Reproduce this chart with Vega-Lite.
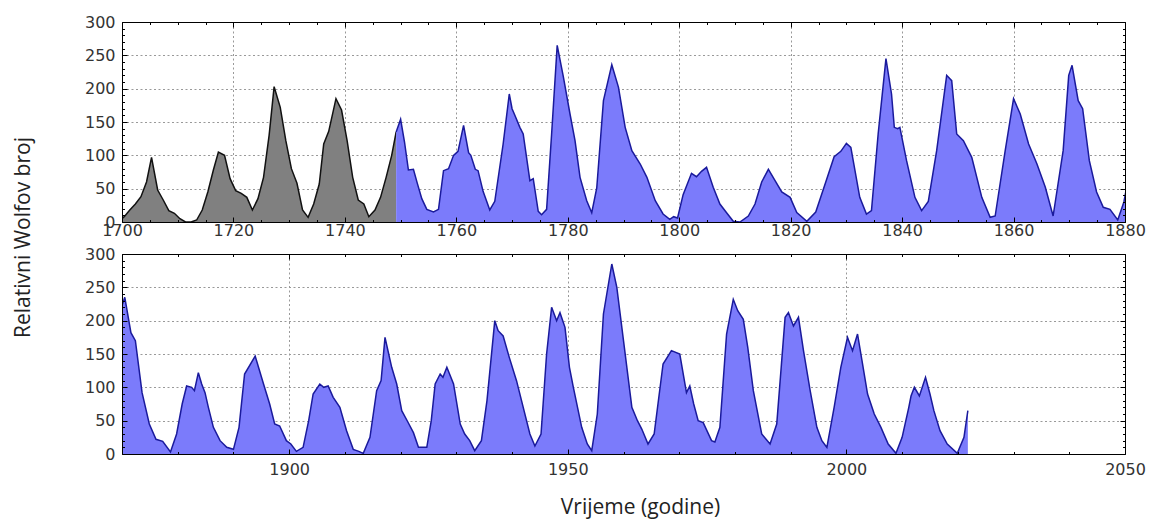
{
"$schema":"https://vega.github.io/schema/vega-lite/v6.json",
"padding":{"left":12,"top":14,"right":5,"bottom":5},
"background":"white",
"config":{"view":{"stroke":null},"axis":{"labelFont":"DejaVu Sans","labelFontSize":16,"labelColor":"#333","titleFont":"Open Sans","titleFontSize":21,"titleFontWeight":"normal","titleColor":"#222"}},
"datasets":{
"early":[{"year":1700,"value":5},{"year":1700.4,"value":8},{"year":1701.4,"value":18},{"year":1702.4,"value":27},{"year":1703.4,"value":38},{"year":1704.4,"value":60},{"year":1705.3,"value":97},{"year":1706.4,"value":48},{"year":1707.4,"value":33},{"year":1708.4,"value":17},{"year":1709.4,"value":13},{"year":1710.4,"value":5},{"year":1711.4,"value":0},{"year":1712.4,"value":0},{"year":1713.4,"value":3},{"year":1714.4,"value":18},{"year":1715.4,"value":45},{"year":1716.4,"value":78},{"year":1717.3,"value":105},{"year":1718.4,"value":100},{"year":1719.4,"value":65},{"year":1720.4,"value":47},{"year":1721.4,"value":43},{"year":1722.4,"value":37},{"year":1723.4,"value":18},{"year":1724.4,"value":35},{"year":1725.4,"value":67},{"year":1726.4,"value":130},{"year":1727.3,"value":203},{"year":1728.4,"value":172},{"year":1729.4,"value":122},{"year":1730.4,"value":80},{"year":1731.4,"value":58},{"year":1732.4,"value":18},{"year":1733.4,"value":7},{"year":1734.4,"value":27},{"year":1735.4,"value":57},{"year":1736.2,"value":117},{"year":1737.1,"value":136},{"year":1738.4,"value":185},{"year":1739.4,"value":168},{"year":1740.4,"value":122},{"year":1741.4,"value":67},{"year":1742.4,"value":33},{"year":1743.4,"value":27},{"year":1744.3,"value":8},{"year":1745.4,"value":18},{"year":1746.4,"value":37},{"year":1747.4,"value":67},{"year":1748.4,"value":100},{"year":1749.2,"value":135}],
"blue":[{"year":1749.2,"value":135},{"year":1750.0,"value":154},{"year":1750.7,"value":120},{"year":1751.4,"value":78},{"year":1752.3,"value":79},{"year":1753.0,"value":58},{"year":1753.8,"value":35},{"year":1754.7,"value":19},{"year":1755.9,"value":15},{"year":1756.8,"value":19},{"year":1757.7,"value":77},{"year":1758.6,"value":80},{"year":1759.5,"value":100},{"year":1760.3,"value":106},{"year":1761.3,"value":145},{"year":1762.2,"value":104},{"year":1762.6,"value":100},{"year":1763.4,"value":79},{"year":1763.9,"value":77},{"year":1764.8,"value":46},{"year":1766.0,"value":18},{"year":1766.9,"value":31},{"year":1768.4,"value":117},{"year":1769.5,"value":192},{"year":1770.0,"value":170},{"year":1770.5,"value":160},{"year":1771.4,"value":142},{"year":1772.0,"value":132},{"year":1773.2,"value":62},{"year":1773.8,"value":65},{"year":1774.7,"value":16},{"year":1775.3,"value":11},{"year":1776.2,"value":19},{"year":1777.1,"value":132},{"year":1778.1,"value":265},{"year":1779.2,"value":218},{"year":1780.4,"value":162},{"year":1781.3,"value":122},{"year":1782.2,"value":67},{"year":1783.4,"value":32},{"year":1784.3,"value":14},{"year":1785.2,"value":51},{"year":1786.4,"value":182},{"year":1787.9,"value":236},{"year":1789.1,"value":202},{"year":1790.3,"value":142},{"year":1791.5,"value":107},{"year":1793.0,"value":87},{"year":1794.2,"value":67},{"year":1795.7,"value":32},{"year":1797.1,"value":12},{"year":1798.3,"value":4},{"year":1799.0,"value":8},{"year":1799.7,"value":6},{"year":1800.7,"value":41},{"year":1802.2,"value":73},{"year":1803.1,"value":68},{"year":1804.0,"value":76},{"year":1804.9,"value":82},{"year":1806.1,"value":52},{"year":1807.3,"value":27},{"year":1808.5,"value":14},{"year":1809.7,"value":1},{"year":1810.9,"value":0},{"year":1812.4,"value":9},{"year":1813.6,"value":27},{"year":1814.8,"value":60},{"year":1816.0,"value":79},{"year":1817.2,"value":62},{"year":1818.4,"value":45},{"year":1819.9,"value":37},{"year":1821.1,"value":14},{"year":1822.9,"value":1},{"year":1824.5,"value":15},{"year":1826.3,"value":60},{"year":1827.8,"value":98},{"year":1829.0,"value":106},{"year":1830.0,"value":118},{"year":1830.8,"value":112},{"year":1832.4,"value":37},{"year":1833.6,"value":12},{"year":1834.5,"value":17},{"year":1835.7,"value":132},{"year":1837.1,"value":245},{"year":1838.1,"value":192},{"year":1838.6,"value":142},{"year":1839.2,"value":140},{"year":1839.6,"value":142},{"year":1840.8,"value":92},{"year":1842.3,"value":37},{"year":1843.5,"value":17},{"year":1844.7,"value":31},{"year":1846.2,"value":107},{"year":1848.0,"value":220},{"year":1848.9,"value":212},{"year":1849.8,"value":132},{"year":1851.0,"value":122},{"year":1852.5,"value":97},{"year":1854.3,"value":37},{"year":1855.8,"value":7},{"year":1856.7,"value":9},{"year":1858.5,"value":107},{"year":1860.0,"value":185},{"year":1861.2,"value":162},{"year":1862.7,"value":117},{"year":1864.2,"value":87},{"year":1865.7,"value":52},{"year":1867.1,"value":9},{"year":1868.9,"value":107},{"year":1869.9,"value":220},{"year":1870.5,"value":235},{"year":1871.6,"value":182},{"year":1872.4,"value":170},{"year":1873.6,"value":92},{"year":1874.9,"value":45},{"year":1876.1,"value":22},{"year":1877.3,"value":19},{"year":1878.7,"value":3},{"year":1879.8,"value":30},{"year":1880.8,"value":75},{"year":1881.6,"value":102},{"year":1882.5,"value":100},{"year":1883.0,"value":95},{"year":1883.7,"value":122},{"year":1884.3,"value":105},{"year":1884.9,"value":92},{"year":1885.5,"value":70},{"year":1886.4,"value":40},{"year":1887.6,"value":20},{"year":1888.8,"value":10},{"year":1890.0,"value":7},{"year":1891.0,"value":40},{"year":1892.0,"value":120},{"year":1893.9,"value":147},{"year":1894.5,"value":130},{"year":1895.4,"value":105},{"year":1896.5,"value":75},{"year":1897.4,"value":45},{"year":1898.3,"value":42},{"year":1899.5,"value":20},{"year":1900.3,"value":15},{"year":1901.3,"value":4},{"year":1902.5,"value":10},{"year":1903.5,"value":50},{"year":1904.3,"value":90},{"year":1905.5,"value":105},{"year":1906.2,"value":100},{"year":1907.0,"value":102},{"year":1907.9,"value":85},{"year":1909.1,"value":70},{"year":1910.3,"value":35},{"year":1911.5,"value":7},{"year":1912.5,"value":4},{"year":1913.3,"value":1},{"year":1914.5,"value":25},{"year":1915.7,"value":95},{"year":1916.5,"value":110},{"year":1917.2,"value":175},{"year":1918.4,"value":130},{"year":1919.3,"value":105},{"year":1920.2,"value":65},{"year":1921.3,"value":48},{"year":1922.3,"value":32},{"year":1923.2,"value":10},{"year":1924.7,"value":10},{"year":1925.5,"value":50},{"year":1926.2,"value":105},{"year":1927.1,"value":120},{"year":1927.6,"value":115},{"year":1928.3,"value":130},{"year":1929.5,"value":105},{"year":1930.7,"value":45},{"year":1931.5,"value":30},{"year":1932.4,"value":20},{"year":1933.3,"value":5},{"year":1934.5,"value":20},{"year":1935.5,"value":80},{"year":1936.9,"value":200},{"year":1937.5,"value":185},{"year":1938.4,"value":177},{"year":1939.5,"value":145},{"year":1940.8,"value":110},{"year":1941.7,"value":80},{"year":1943.2,"value":30},{"year":1944.1,"value":12},{"year":1945.2,"value":30},{"year":1946.2,"value":150},{"year":1947.1,"value":220},{"year":1948.0,"value":200},{"year":1948.6,"value":212},{"year":1949.5,"value":190},{"year":1950.3,"value":130},{"year":1951.0,"value":100},{"year":1952.5,"value":40},{"year":1953.5,"value":15},{"year":1954.3,"value":5},{"year":1955.3,"value":60},{"year":1956.4,"value":210},{"year":1957.9,"value":285},{"year":1958.8,"value":250},{"year":1960.0,"value":170},{"year":1961.5,"value":70},{"year":1962.5,"value":50},{"year":1963.3,"value":37},{"year":1964.4,"value":15},{"year":1965.5,"value":30},{"year":1967.1,"value":135},{"year":1968.6,"value":155},{"year":1970.1,"value":150},{"year":1971.3,"value":92},{"year":1971.9,"value":102},{"year":1972.6,"value":75},{"year":1973.4,"value":50},{"year":1974.3,"value":47},{"year":1975.8,"value":20},{"year":1976.4,"value":18},{"year":1977.3,"value":40},{"year":1978.5,"value":180},{"year":1979.7,"value":232},{"year":1980.5,"value":215},{"year":1981.5,"value":202},{"year":1982.3,"value":160},{"year":1983.3,"value":95},{"year":1984.8,"value":30},{"year":1986.3,"value":15},{"year":1987.5,"value":45},{"year":1988.3,"value":130},{"year":1989.0,"value":205},{"year":1989.6,"value":212},{"year":1990.5,"value":192},{"year":1991.4,"value":205},{"year":1992.3,"value":155},{"year":1993.5,"value":95},{"year":1994.7,"value":40},{"year":1995.6,"value":20},{"year":1996.5,"value":10},{"year":1997.8,"value":70},{"year":1999.0,"value":130},{"year":2000.2,"value":175},{"year":2001.1,"value":155},{"year":2002.0,"value":180},{"year":2002.8,"value":140},{"year":2003.8,"value":90},{"year":2005.0,"value":60},{"year":2006.2,"value":40},{"year":2007.5,"value":15},{"year":2008.9,"value":1},{"year":2010.0,"value":25},{"year":2011.2,"value":70},{"year":2011.6,"value":87},{"year":2012.2,"value":100},{"year":2013.1,"value":87},{"year":2014.2,"value":115},{"year":2015.0,"value":90},{"year":2015.7,"value":65},{"year":2016.8,"value":35},{"year":2018.1,"value":15},{"year":2019.9,"value":1},{"year":2021.1,"value":25},{"year":2021.8,"value":65}]
},
"spacing":32,
"bounds":"flush",
"vconcat":[
{
"width":1003,"height":200,
"resolve":{"axis":{"x":"independent","y":"independent"}},
"layer":[
{"data":{"name":"early"},"mark":{"type":"area","color":"#808080","clip":true},
"encoding":{
"x":{"field":"year","type":"quantitative","scale":{"domain":[1700,1880],"nice":false,"zero":false},"axis":{"orient":"bottom","values":[1700,1720,1740,1760,1780,1800,1820,1840,1860,1880],"format":"d","grid":true,"gridDash":[2,2.5],"gridColor":"#999","gridWidth":1,"ticks":false,"domain":false,"labelPadding":0,"labelFlush":false,"labelOverlap":false,"title":null,"zindex":0}},
"y":{"field":"value","type":"quantitative","scale":{"domain":[0,300],"nice":false},"axis":{"orient":"left","values":[0,50,100,150,200,250,300],"grid":true,"gridDash":[2,2.5],"gridColor":"#999","gridWidth":1,"ticks":false,"domain":false,"labelPadding":7,"labelOverlap":false,"title":"Relativni Wolfov broj","titleX":-89,"titleY":215,"titleBaseline":"bottom","titleAngle":270,"titleAlign":"center","zindex":0}}}},
{"data":{"name":"early"},"mark":{"type":"line","color":"#111111","strokeWidth":1.5,"clip":true},
"encoding":{"x":{"field":"year","type":"quantitative","scale":{"domain":[1700,1880],"nice":false,"zero":false},"axis":null},"y":{"field":"value","type":"quantitative","scale":{"domain":[0,300],"nice":false},"axis":null}}},
{"data":{"name":"blue"},"mark":{"type":"area","color":"#7b7bfb","opacity":1,"clip":true},
"encoding":{
"x":{"field":"year","type":"quantitative","scale":{"domain":[1700,1880],"nice":false,"zero":false},"axis":{"orient":"top","values":[1700,1720,1740,1760,1780,1800,1820,1840,1860,1880],"labels":false,"grid":false,"ticks":true,"tickSize":-5,"tickColor":"#000","domain":true,"domainColor":"#000","title":null,"zindex":1}},
"y":{"field":"value","type":"quantitative","scale":{"domain":[0,300],"nice":false},"axis":{"orient":"right","values":[0,50,100,150,200,250,300],"labels":false,"grid":false,"ticks":true,"tickSize":-5,"tickColor":"#000","domain":true,"domainColor":"#000","title":null,"zindex":1}}}},
{"data":{"name":"blue"},"mark":{"type":"line","color":"#1a1a9c","strokeWidth":1.5,"clip":true},
"encoding":{"x":{"field":"year","type":"quantitative","scale":{"domain":[1700,1880],"nice":false,"zero":false},"axis":null},"y":{"field":"value","type":"quantitative","scale":{"domain":[0,300],"nice":false},"axis":null}}},
{"data":{"name":"early"},"mark":{"type":"point","opacity":0,"clip":true},
"encoding":{
"x":{"field":"year","type":"quantitative","scale":{"domain":[1700,1880],"nice":false,"zero":false},"axis":{"orient":"bottom","values":[1700,1720,1740,1760,1780,1800,1820,1840,1860,1880],"labels":false,"grid":false,"ticks":true,"tickSize":-5,"tickColor":"#000","domain":true,"domainColor":"#000","title":null,"zindex":1}},
"y":{"field":"value","type":"quantitative","scale":{"domain":[0,300],"nice":false},"axis":{"orient":"left","values":[0,50,100,150,200,250,300],"labels":false,"grid":false,"ticks":true,"tickSize":-5,"tickColor":"#000","domain":true,"domainColor":"#000","title":null,"zindex":1}}}},
{"data":{"name":"early"},"mark":{"type":"point","opacity":0,"clip":true},
"encoding":{
"x":{"field":"year","type":"quantitative","scale":{"domain":[1700,1880],"nice":false,"zero":false},"axis":{"orient":"bottom","values":[1705,1710,1715,1725,1730,1735,1745,1750,1755,1765,1770,1775,1785,1790,1795,1805,1810,1815,1825,1830,1835,1845,1850,1855,1865,1870,1875],"labels":false,"grid":false,"ticks":true,"tickSize":-2.5,"tickColor":"#000","domain":false,"title":null,"zindex":1}},
"y":{"field":"value","type":"quantitative","scale":{"domain":[0,300],"nice":false},"axis":{"orient":"left","values":[10,20,30,40,60,70,80,90,110,120,130,140,160,170,180,190,210,220,230,240,260,270,280,290],"labels":false,"grid":false,"ticks":true,"tickSize":-2.5,"tickColor":"#000","domain":false,"title":null,"zindex":1}}}},
{"data":{"name":"early"},"mark":{"type":"point","opacity":0,"clip":true},
"encoding":{
"x":{"field":"year","type":"quantitative","scale":{"domain":[1700,1880],"nice":false,"zero":false},"axis":{"orient":"top","values":[1705,1710,1715,1725,1730,1735,1745,1750,1755,1765,1770,1775,1785,1790,1795,1805,1810,1815,1825,1830,1835,1845,1850,1855,1865,1870,1875],"labels":false,"grid":false,"ticks":true,"tickSize":-2.5,"tickColor":"#000","domain":false,"title":null,"zindex":1}},
"y":{"field":"value","type":"quantitative","scale":{"domain":[0,300],"nice":false},"axis":{"orient":"right","values":[10,20,30,40,60,70,80,90,110,120,130,140,160,170,180,190,210,220,230,240,260,270,280,290],"labels":false,"grid":false,"ticks":true,"tickSize":-2.5,"tickColor":"#000","domain":false,"title":null,"zindex":1}}}}
]
},
{
"width":1003,"height":200,
"resolve":{"axis":{"x":"independent","y":"independent"}},
"layer":[
{"data":{"name":"blue"},"mark":{"type":"area","color":"#7b7bfb","opacity":1,"clip":true},
"encoding":{
"x":{"field":"year","type":"quantitative","scale":{"domain":[1870,2050],"nice":false,"zero":false},"axis":{"orient":"bottom","values":[1900,1950,2000,2050],"format":"d","grid":true,"gridDash":[2,2.5],"gridColor":"#999","gridWidth":1,"ticks":false,"domain":false,"labelPadding":7,"labelFlush":false,"labelOverlap":false,"title":"Vrijeme (godine)","titleX":518,"titleY":59,"titleBaseline":"alphabetic","titleAlign":"center","zindex":0}},
"y":{"field":"value","type":"quantitative","scale":{"domain":[0,300],"nice":false},"axis":{"orient":"left","values":[0,50,100,150,200,250,300],"grid":true,"gridDash":[2,2.5],"gridColor":"#999","gridWidth":1,"ticks":false,"domain":false,"labelPadding":7,"labelOverlap":false,"title":null,"zindex":0}}}},
{"data":{"name":"blue"},"mark":{"type":"line","color":"#1a1a9c","strokeWidth":1.5,"clip":true},
"encoding":{"x":{"field":"year","type":"quantitative","scale":{"domain":[1870,2050],"nice":false,"zero":false},"axis":null},"y":{"field":"value","type":"quantitative","scale":{"domain":[0,300],"nice":false},"axis":null}}},
{"data":{"name":"blue"},"mark":{"type":"point","opacity":0,"clip":true},
"encoding":{
"x":{"field":"year","type":"quantitative","scale":{"domain":[1870,2050],"nice":false,"zero":false},"axis":{"orient":"top","values":[1900,1950,2000,2050],"labels":false,"grid":false,"ticks":true,"tickSize":-5,"tickColor":"#000","domain":true,"domainColor":"#000","title":null,"zindex":1}},
"y":{"field":"value","type":"quantitative","scale":{"domain":[0,300],"nice":false},"axis":{"orient":"right","values":[0,50,100,150,200,250,300],"labels":false,"grid":false,"ticks":true,"tickSize":-5,"tickColor":"#000","domain":true,"domainColor":"#000","title":null,"zindex":1}}}},
{"data":{"name":"blue"},"mark":{"type":"point","opacity":0,"clip":true},
"encoding":{
"x":{"field":"year","type":"quantitative","scale":{"domain":[1870,2050],"nice":false,"zero":false},"axis":{"orient":"bottom","values":[1900,1950,2000,2050],"labels":false,"grid":false,"ticks":true,"tickSize":-5,"tickColor":"#000","domain":true,"domainColor":"#000","title":null,"zindex":1}},
"y":{"field":"value","type":"quantitative","scale":{"domain":[0,300],"nice":false},"axis":{"orient":"left","values":[0,50,100,150,200,250,300],"labels":false,"grid":false,"ticks":true,"tickSize":-5,"tickColor":"#000","domain":true,"domainColor":"#000","title":null,"zindex":1}}}},
{"data":{"name":"blue"},"mark":{"type":"point","opacity":0,"clip":true},
"encoding":{
"x":{"field":"year","type":"quantitative","scale":{"domain":[1870,2050],"nice":false,"zero":false},"axis":{"orient":"bottom","values":[1870,1880,1890,1910,1920,1930,1940,1960,1970,1980,1990,2010,2020,2030,2040],"labels":false,"grid":false,"ticks":true,"tickSize":-2.5,"tickColor":"#000","domain":false,"title":null,"zindex":1}},
"y":{"field":"value","type":"quantitative","scale":{"domain":[0,300],"nice":false},"axis":{"orient":"left","values":[10,20,30,40,60,70,80,90,110,120,130,140,160,170,180,190,210,220,230,240,260,270,280,290],"labels":false,"grid":false,"ticks":true,"tickSize":-2.5,"tickColor":"#000","domain":false,"title":null,"zindex":1}}}},
{"data":{"name":"blue"},"mark":{"type":"point","opacity":0,"clip":true},
"encoding":{
"x":{"field":"year","type":"quantitative","scale":{"domain":[1870,2050],"nice":false,"zero":false},"axis":{"orient":"top","values":[1870,1880,1890,1910,1920,1930,1940,1960,1970,1980,1990,2010,2020,2030,2040],"labels":false,"grid":false,"ticks":true,"tickSize":-2.5,"tickColor":"#000","domain":false,"title":null,"zindex":1}},
"y":{"field":"value","type":"quantitative","scale":{"domain":[0,300],"nice":false},"axis":{"orient":"right","values":[10,20,30,40,60,70,80,90,110,120,130,140,160,170,180,190,210,220,230,240,260,270,280,290],"labels":false,"grid":false,"ticks":true,"tickSize":-2.5,"tickColor":"#000","domain":false,"title":null,"zindex":1}}}}
]
}
]
}
